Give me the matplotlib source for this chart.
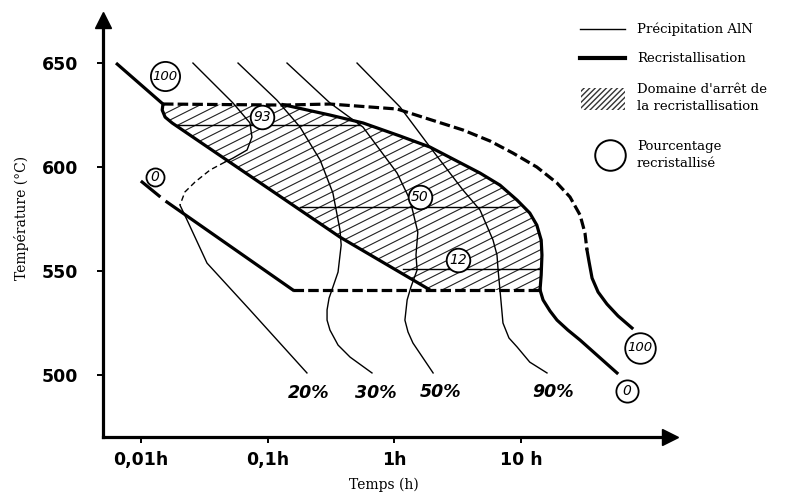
import numpy as np
import matplotlib
matplotlib.use('Agg')
import matplotlib.pyplot as plt
from matplotlib.patches import Polygon, Rectangle
from matplotlib.lines import Line2D
from matplotlib.ticker import NullLocator

# values: time in hours, temperature in degC

# recristallisation (thick) - "100" curve, bounds the hatched zone from below
rx100_t = [0.00635, 0.0149, 0.0147, 0.0155, 0.0176, 0.372, 1.91]
rx100_T = [650, 630.3, 627.4, 624.0, 621.2, 566.3, 540.9]

# "0" curve, in pieces
rx0_a_t = [0.0102, 0.0139]
rx0_a_T = [592.8, 586.1]
rx0_b_t = [0.0160, 0.158]
rx0_b_T = [583.2, 540.9]
rx0_dash_t = [0.158, 14.1]
rx0_dash_T = [540.9, 540.9]
rx0_c_t = [14.1, 14.9, 16.9, 19.2, 23.4, 29.2, 57.1]
rx0_c_T = [540.9, 536.1, 530.8, 526.4, 521.6, 516.8, 501.0]

# outer "100" curve (dashed then solid)
out_dash_t = [0.0149, 0.132, 0.310, 1.05, 3.48, 5.69, 8.63, 13.3, 19.2, 24.3, 29.2, 31.9, 33.1]
out_dash_T = [630.3, 629.8, 630.3, 627.9, 617.8, 612.5, 606.7, 600.0, 592.3, 585.6,
              576.9, 568.3, 560.1]
out_solid_t = [33.1, 34.4, 36.3, 40.5, 47.6, 58.2, 75.0]
out_solid_T = [560.1, 554.3, 546.6, 539.9, 534.1, 528.4, 522.6]

# upper edge of the stop domain (thick solid)
stop_top_t = [0.132, 0.310, 0.565, 1.11, 1.91, 4.74, 6.81, 9.29, 11.7, 13.3, 14.4,
              14.6, 14.4, 14.1]
stop_top_T = [630.0, 625.0, 621.2, 614.9, 609.6, 597.1, 591.3, 584.1, 577.9, 572.1,
              564.9, 557.7, 548.1, 540.9]

# iso-recristallisation levels inside the domain
lvl_t = [[0.0192, 0.535], [0.180, 9.29], [1.17, 14.1]]
lvl_T = [620.2, 581.0, 551.0]

# AlN precipitation curves (thin)
p20_a_t = [0.0257, 0.0532, 0.0724, 0.0751, 0.0687, 0.0532, 0.0460]
p20_a_T = [650, 630.8, 621.2, 614.4, 608.2, 604.3, 602.4]
p20_dash_t = [0.0460, 0.0351, 0.0267, 0.0222, 0.0203]
p20_dash_T = [602.4, 598.6, 592.8, 588.0, 581.7]
p20_b_t = [0.0203, 0.0231, 0.0332, 0.0724, 0.204]
p20_b_T = [581.7, 574.5, 553.8, 531.3, 501.0]

p30_t = [0.0583, 0.118, 0.180, 0.259, 0.327, 0.372, 0.380, 0.359, 0.327, 0.305, 0.294,
         0.294, 0.310, 0.359, 0.447, 0.665]
p30_T = [650, 632.2, 619.2, 603.4, 587.5, 569.7, 562.5, 549.5, 542.3, 537.0, 531.3,
         526.4, 521.6, 514.4, 508.6, 501.0]

p50_t = [0.142, 0.310, 0.565, 1.05, 1.33, 1.53, 1.48, 1.51, 1.35, 1.26, 1.21, 1.28, 1.40, 2.02]
p50_T = [650, 630.8, 619.2, 597.1, 584.1, 568.7, 557.7, 550.5, 542.3, 536.1, 526.4,
         520.7, 515.4, 501.0]

p90_t = [0.507, 1.11, 1.91, 3.48, 4.74, 6.00, 6.45, 6.58, 6.81, 7.19, 8.02, 9.29, 11.7, 16.0]
p90_T = [650, 628.8, 609.6, 588.9, 579.3, 564.9, 557.7, 550.5, 540.9, 525.0, 517.8,
         513.5, 506.2, 501.0]

pct_labels = ['20%', '30%', '50%', '90%']
pct_t = [0.212, 0.716, 2.33, 17.9]
pct_T = [491.3, 491.3, 491.8, 491.8]

ring_text = ['100', '93', '0', '50', '12', '100', '0']
ring_t = [0.0155, 0.0902, 0.0129, 1.59, 3.18, 86.8, 68.5]
ring_T = [643.7, 624.0, 595.2, 585.6, 555.3, 513.0, 492.3]
ring_ms = [21, 17, 13, 17, 17, 22, 16]

xticks = [0.01, 0.1, 1, 10]
xtick_labels = ['0,01h', '0,1h', '1h', '10 h']
yticks = [500, 550, 600, 650]

fig = plt.figure(figsize=(7.85, 4.95), dpi=100)
W, H = 785, 495
ax = fig.add_axes([103 / W, (H - 437) / H, (670 - 103) / W, (437 - 20) / H])
ax.set_xscale('log')
ax.set_xlim(10 ** -2.3, 10 ** 2.175)
ax.set_ylim(470.2, 670.7)

thick = 2.3
thin = 1.0
dash_thick = (0, (3.3, 1.3))

# hatched zone: top dashed, upper curve, bottom dashed, back along rx100
poly_t = [rx100_t[1]] + stop_top_t + [rx100_t[-1]] + rx100_t[::-1][1:-1]
poly_T = [630.0] + stop_top_T + [rx100_T[-1]] + rx100_T[::-1][1:-1]
zone = Polygon(np.column_stack([poly_t, poly_T]), closed=True,
               facecolor='none', edgecolor='none')
ax.add_patch(zone)

aw, ah = 670 - 103, 437 - 20
for c in np.arange(-0.5 * aw, ah, 9):
    px = np.array([0, aw])
    ln, = ax.plot(px / aw, (0.5 * px + c) / ah, color='#222222', lw=0.8,
                  transform=ax.transAxes, zorder=1)
    ln.set_clip_path(zone)

for (t0, t1), T in zip(lvl_t, lvl_T):
    ax.plot([t0, t1], [T, T], color='black', lw=thin, zorder=2)

# recristallisation curves
ax.plot(rx100_t, rx100_T, color='black', lw=thick, zorder=3, solid_capstyle='butt')
ax.plot(rx0_a_t, rx0_a_T, color='black', lw=thick, zorder=3)
ax.plot(rx0_b_t, rx0_b_T, color='black', lw=thick, zorder=3)
ax.plot(rx0_dash_t, rx0_dash_T, color='black', lw=thick, ls=dash_thick, zorder=3)
ax.plot(rx0_c_t, rx0_c_T, color='black', lw=thick, zorder=3)
ax.plot(out_dash_t, out_dash_T, color='black', lw=thick, ls=dash_thick, zorder=3)
ax.plot(out_solid_t, out_solid_T, color='black', lw=thick, zorder=3)
ax.plot(stop_top_t, stop_top_T, color='black', lw=thick, zorder=3)

# precipitation curves
ax.plot(p20_a_t, p20_a_T, color='black', lw=thin, zorder=2)
ax.plot(p20_dash_t, p20_dash_T, color='black', lw=thin, ls=(0, (4, 2.5)), zorder=2)
ax.plot(p20_b_t, p20_b_T, color='black', lw=thin, zorder=2)
ax.plot(p30_t, p30_T, color='black', lw=thin, zorder=2)
ax.plot(p50_t, p50_T, color='black', lw=thin, zorder=2)
ax.plot(p90_t, p90_T, color='black', lw=thin, zorder=2)

for s, t, T in zip(pct_labels, pct_t, pct_T):
    ax.text(t, T, s, ha='center', va='center', fontsize=12.5, style='italic',
            fontweight='bold')

for s, t, T, ms in zip(ring_text, ring_t, ring_T, ring_ms):
    ax.plot(t, T, 'o', ms=ms, mfc='white', mec='black', mew=1.3, zorder=5)
    ax.text(t, T, s, ha='center', va='center', fontsize=9.5 if len(s) > 2 else 10,
            style='italic', zorder=6)

# axes with arrows
for side in ['top', 'right']:
    ax.spines[side].set_visible(False)
for side in ['left', 'bottom']:
    ax.spines[side].set_linewidth(2.3)
ax.plot(0, 1, '^', color='black', ms=11, transform=ax.transAxes, clip_on=False)
ax.plot(1, 0, '>', color='black', ms=11, transform=ax.transAxes, clip_on=False)

ax.set_xticks(xticks)
ax.set_xticklabels(xtick_labels)
ax.xaxis.set_minor_locator(NullLocator())
ax.set_yticks(yticks)
ax.tick_params(axis='both', direction='out', length=4, width=1.4, labelsize=12.5)
ax.tick_params(axis='y', pad=14)
ax.tick_params(axis='x', pad=6)
for lab in ax.get_xticklabels() + ax.get_yticklabels():
    lab.set_fontweight('bold')

fig.text(22 / W, 1 - 218 / H, 'Température (°C)', rotation=90, ha='center',
         va='center', family='DejaVu Serif', fontsize=10)
fig.text(384 / W, 1 - 485 / H, 'Temps (h)', ha='center', va='center',
         family='DejaVu Serif', fontsize=10)

# legend drawn by hand
fig.add_artist(Line2D([580 / W, 625 / W], [1 - 29 / H, 1 - 29 / H], color='black', lw=thin))
fig.add_artist(Line2D([580 / W, 625 / W], [1 - 58 / H, 1 - 58 / H], color='black', lw=3))
fig.add_artist(Rectangle((581 / W, 1 - 110 / H), 44 / W, 22 / H, facecolor='white',
                         edgecolor='#333333', lw=0, hatch='//////'))
fig.add_artist(Line2D([610 / W], [1 - 155 / H], marker='o', ms=22, mfc='none',
                      mec='black', mew=1.4))
legend_txt = ['Précipitation AlN', 'Recristallisation',
              "Domaine d'arrêt de\nla recristallisation", 'Pourcentage\nrecristallisé']
legend_y = [29, 58, 98, 155]
for s, y in zip(legend_txt, legend_y):
    fig.text(637 / W, 1 - y / H, s, ha='left', va='center', family='DejaVu Serif',
             fontsize=9.5, linespacing=1.35)

fig.savefig('out.png', dpi=100)
